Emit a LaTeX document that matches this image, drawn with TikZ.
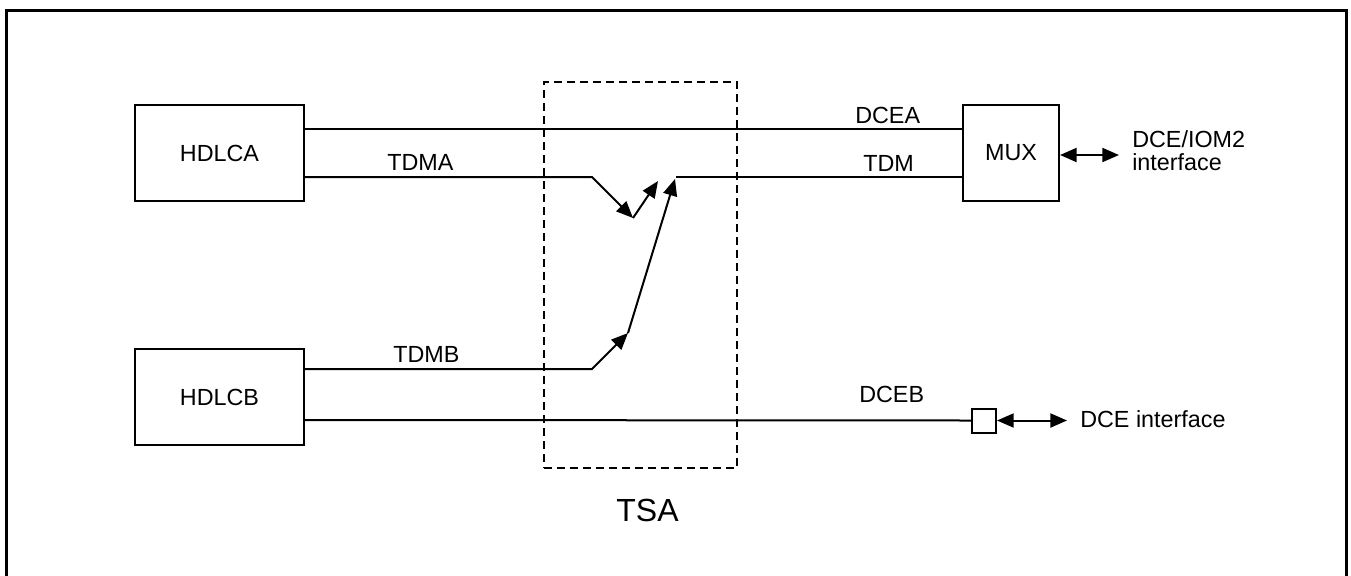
\documentclass[tikz,border=0pt]{standalone}
\usepackage{fontspec}
\setmainfont{Liberation Sans}
\usetikzlibrary{arrows.meta}
\begin{document}
\begin{tikzpicture}[x=0.75pt,y=-0.75pt,
  box/.style={draw, line width=1.5pt, inner sep=0pt, font=\fontsize{17.5}{21}\selectfont},
  lbl/.style={font=\fontsize{17.5}{21}\selectfont, inner sep=0pt, anchor=base west},
  wire/.style={line width=1.5pt},
  arr/.style={wire, -{Triangle[length=12.5pt,width=10.5pt]}},
  darr/.style={wire, {Triangle[length=12.5pt,width=10.5pt]}-{Triangle[length=12.5pt,width=10.5pt]}},
  tsabox/.style={draw, line width=1.5pt, dash pattern=on 6pt off 3.75pt, inner sep=0pt},
]
\useasboundingbox (0,0) rectangle (1351,575);
\draw[line width=2.25pt] (6,590) -- (6,10) -- (1346.5,10) -- (1346.5,590);

\node[tsabox, minimum width=144.75pt, minimum height=289.5pt] (tsa) at (640,275) {};
\node[font=\fontsize{24}{28}\selectfont, inner sep=0pt] (tsalbl) at (647.5,510) {TSA};

\node[box, minimum width=126.75pt, minimum height=72pt] (hdlca) at (219.5,153) {HDLCA};
\node[box, minimum width=126.75pt, minimum height=72pt] (hdlcb) at (219.5,397) {HDLCB};
\node[box, minimum width=72pt, minimum height=72pt] (mux) at (1011,153) {MUX};
\node[draw, line width=1.5pt, minimum size=18pt, inner sep=0pt] (port) at (984,420.5) {};

\coordinate (abend) at (592,177);
\coordinate (av) at (633,218);
\coordinate (atip) at (658,181);
\coordinate (tdmstart) at (676,177);
\coordinate (bbend) at (592,369);
\coordinate (bmid) at (628,333);
\coordinate (btip) at (675,179);
\coordinate (muxout) at (1119,155);
\coordinate (dceout) at (1067,420.5);

\draw[wire] ([yshift=18pt]hdlca.east) -- ([yshift=18pt]mux.west);
\draw[arr] ([yshift=-18pt]hdlca.east) -- (abend) -- (av);
\draw[arr] (av) -- (atip);
\draw[wire] (tdmstart) -- (tdmstart -| mux.west);
\draw[arr] ([yshift=21pt]hdlcb.east) -- (bbend) -- (bmid);
\draw[arr] (bmid) -- (btip);
\draw[wire] ([yshift=-17.25pt]hdlcb.east) -- (port.west);
\draw[darr] (mux.east |- muxout) -- (muxout);
\draw[darr] (port.east) -- (dceout);

\node[lbl] (tdmalbl) at (387,170) {TDMA};
\node[lbl] (dcealbl) at (855,123) {DCEA};
\node[lbl] (tdmlbl) at (863,171) {TDM};
\node[lbl] (tdmblbl) at (393,362) {TDMB};
\node[lbl] (dceblbl) at (859,402) {DCEB};
\node[inner sep=0pt, anchor=north west, align=left,
      font=\fontsize{17.5}{17.6}\selectfont] (iom) at (1132,130) {DCE/IOM2\\interface};
\node[lbl] (dceif) at (1080,427) {DCE interface};
\end{tikzpicture}
\end{document}
